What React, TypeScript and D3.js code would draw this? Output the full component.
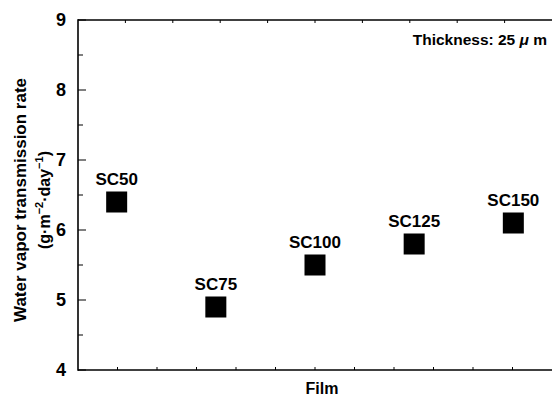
import React from 'react';
import * as d3 from 'd3';

// film samples and their water vapor transmission rate
const films = ['SC50', 'SC75', 'SC100', 'SC125', 'SC150'];
const wvtr = [6.4, 4.9, 5.5, 5.8, 6.1];
const yTicks = [4, 5, 6, 7, 8, 9];

const W = 552;
const H = 398;
const margin = { top: 20, right: 0, bottom: 28, left: 78 };
const FONT = '"Liberation Sans", Arial, Helvetica, sans-serif';

const App = () => {
  const x0 = margin.left;
  const x1 = W - margin.right;
  const y0 = H - margin.bottom; // 370
  const y1 = margin.top;

  const x = d3.scalePoint<string>().domain(films).range([x0, x1]).padding(0.39);
  const y = d3.scaleLinear().domain([4, 9]).range([y0, y1]);

  const minor = d3.range(4.5, 9, 1);
  // decorative tick marks along top and bottom frame lines
  const bottomScale = d3.scaleLinear().domain([0, 12]).range([x0, x1]);
  const topScale = d3.scaleLinear().domain([0, 10]).range([x0, x1]);
  const bottomTicks = d3.range(1, 12).map(d => bottomScale(d));
  const topTicks = d3.range(1, 10).map(d => topScale(d));

  const sq = 21;
  const midY = (y0 + y1) / 2 + 5;

  return (
    <svg width={W} height={H} style={{ position: 'absolute', left: 0, top: 0, background: '#fff' }} fontFamily={FONT}>
      {/* frame */}
      <g stroke="#000" strokeWidth={1.6} fill="none">
        <line x1={x0} y1={y1} x2={x1} y2={y1} />
        <line x1={x0} y1={y0} x2={x1} y2={y0} />
        <line x1={x0} y1={y1 - 0.8} x2={x0} y2={y0 + 0.8} />
      </g>
      <g stroke="#000" strokeWidth={1}>
        {yTicks.map(t => (
          <line key={'yt' + t} x1={x0} x2={x0 + 8} y1={y(t)} y2={y(t)} />
        ))}
        {minor.map(t => (
          <line key={'ym' + t} x1={x0} x2={x0 + 5} y1={y(t)} y2={y(t)} />
        ))}
        {bottomTicks.map((t, i) => (
          <line key={'bt' + i} x1={t} x2={t} y1={y0} y2={y0 - 3} />
        ))}
        {topTicks.map((t, i) => (
          <line key={'tt' + i} x1={t} x2={t} y1={y1} y2={y1 + 3} />
        ))}
      </g>
      {yTicks.map(t => (
        <text key={'yl' + t} x={x0 - 12} y={y(t)} dy="0.36em" textAnchor="end" fontSize={18} fontWeight="bold">
          {t}
        </text>
      ))}

      {/* points */}
      {films.map((f, i) => (
        <g key={f}>
          <rect x={x(f)! - sq / 2} y={y(wvtr[i]) - sq / 2} width={sq} height={sq} fill="#000" />
          <text x={x(f)!} y={y(wvtr[i]) - sq / 2 - 7} textAnchor="middle" fontSize={17} fontWeight="bold">
            {f}
          </text>
        </g>
      ))}

      {/* annotation */}
      <text x={547} y={45} textAnchor="end" fontSize={15.5} fontWeight="bold">
        Thickness: 25 <tspan fontStyle="italic">μ</tspan> m
      </text>

      {/* axis titles */}
      <text x={322} y={394} textAnchor="middle" fontSize={16} fontWeight="bold">Film</text>
      <text transform={`translate(26,${midY}) rotate(-90)`} textAnchor="middle" fontSize={17} fontWeight="bold">
        Water vapor transmission rate
      </text>
      <text transform={`translate(50,${midY}) rotate(-90)`} textAnchor="middle" fontSize={16} fontWeight="bold">
        (g·m<tspan dy={-7} fontSize={11}>−2</tspan><tspan dy={7}>·day</tspan><tspan dy={-7} fontSize={11}>−1</tspan><tspan dy={7}>)</tspan>
      </text>
    </svg>
  );
};

export default App;
